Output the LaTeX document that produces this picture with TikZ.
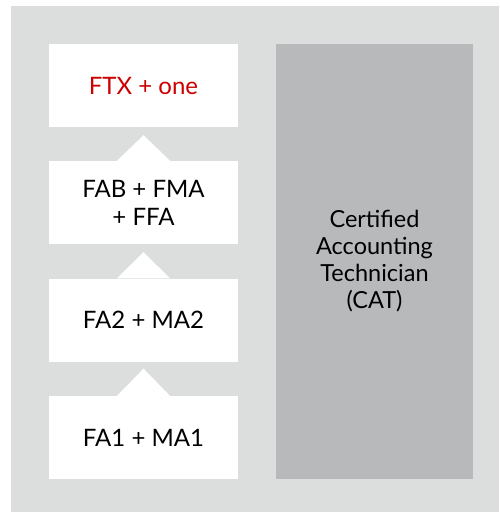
\documentclass[tikz,border=0pt]{standalone}
\usepackage{fontspec}
\setmainfont{Lato}
\usepackage{tikz}
\definecolor{bggray}{HTML}{DCDEDD}
\definecolor{catgray}{HTML}{B8B9BB}
\definecolor{ftxred}{HTML}{CC0000}
\tikzset{
    level/.style={fill=white, minimum width=189pt, minimum height=83pt,
        inner sep=0pt, align=center, font=\fontsize{24}{28}\selectfont},
    pointer/.style={fill=white}
}
\begin{document}
\begin{tikzpicture}[x=1pt, y=-1pt]
    \useasboundingbox (0,0) rectangle (499,512);
    % Background
    \fill[bggray] (11,6) rectangle (499,512);

    % Levels
    \node[level, text=ftxred] (ftx) at (143.5,85.5) {FTX + one};
    \node[level] (fab) at (143.5,202.5) {FAB + FMA\\+ FFA};
    \node[level] (fa2) at (143.5,320) {FA2 + MA2};
    \node[level] (fa1) at (143.5,437.5) {FA1 + MA1};

    % Pointers
    \fill[pointer] ([xshift=-26.5pt]fab.north) -- ([yshift=-8pt]ftx.south) -- ([xshift=26.5pt]fab.north) -- cycle;
    \fill[pointer] ([xshift=-26.5pt]fa2.north) -- ([yshift=-8pt]fab.south) -- ([xshift=26.5pt]fa2.north) -- cycle;
    \fill[pointer] ([xshift=-26.5pt]fa1.north) -- ([yshift=-7pt]fa2.south) -- ([xshift=26.5pt]fa1.north) -- cycle;

    % CAT
    \node[fill=catgray, minimum width=197pt, minimum height=435pt, inner sep=0pt,
        align=center, font=\fontsize{23.5}{27}\selectfont] (cat) at (374.5,261.5)
        {Certified\\Accounting\\Technician\\(CAT)};
\end{tikzpicture}
\end{document}
